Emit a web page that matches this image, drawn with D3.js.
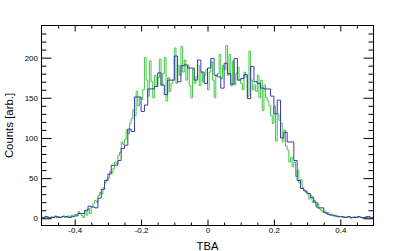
<!DOCTYPE html>
<html>
<head>
<meta charset="utf-8">
<script src="https://cdn.jsdelivr.net/npm/d3@7"></script>
<style>
  body { margin: 0; background: #fff; }
  text { font-family: "Liberation Sans", Arial, sans-serif; }
</style>
</head>
<body>
<div id="chart"></div>
<script>
// histogram ranges and bin contents
var xRange = [-0.5, 0.5];

// coarse histogram, 100 bins of 0.01
var blueCounts = [
  1, 2, 1, 1, 2, 1, 2, 2, 1, 2,
  3, 6, 6, 10, 15, 14, 13, 25, 36, 47,
  55, 66, 66, 72, 87, 91, 111, 108, 151, 151,
  133, 141, 161, 161, 164, 181, 166, 154, 172, 172,
  202, 170, 190, 191, 187, 187, 172, 197, 182, 168,
  187, 199, 178, 176, 162, 193, 180, 167, 199, 172,
  174, 179, 149, 189, 170, 168, 162, 161, 161, 152,
  130, 147, 100, 107, 95, 95, 72, 47, 37, 34,
  31, 26, 20, 13, 13, 7, 5, 4, 3, 2,
  2, 1, 2, 1, 1, 2, 1, 1, 2, 1
];

// fine histogram, 200 bins of 0.005
var greenCounts = [
  1, 0, 2, 1, 1, 0, 2, 1, 3, 1, 2, 1, 2, 3, 1, 2, 3, 2, 4, 3,
  5, 4, 8, 6, 3, 1, 9, 4, 12, 6,
  14, 18, 22, 20, 28, 32, 30, 38, 44, 48,
  50, 58, 56, 62, 70, 68, 78, 82, 95, 92,
  98, 110, 105, 118, 124, 135, 128, 158, 140, 150,
  148, 160, 200, 172, 152, 196, 170, 150, 178, 165,
  175, 198, 165, 180, 200, 146, 175, 158, 168, 172,
  212, 168, 190, 178, 214, 182, 197, 172, 190, 165,
  150, 186, 168, 176, 190, 165, 182, 170, 178, 185,
  160, 182, 195, 172, 150, 178, 180, 204, 174, 190,
  185, 215, 178, 204, 165, 196, 166, 180, 188, 172,
  168, 160, 182, 176, 152, 208, 172, 160, 166, 158,
  178, 150, 172, 134, 166, 150, 146, 140, 128, 118,
  140, 96, 130, 122, 118, 95, 110, 90, 85, 70,
  76, 64, 70, 52, 60, 44, 48, 38, 35, 32,
  30, 24, 28, 20, 22, 15, 18, 12, 10, 8,
  9, 6, 7, 4, 5, 3, 4, 2, 3, 2,
  2, 1, 2, 1, 1, 2, 0, 1, 2, 1, 1, 2, 1, 0, 1, 2, 1, 1, 0, 1
];

var xMajor = [-0.4, -0.2, 0, 0.2, 0.4];
var yMajor = [0, 50, 100, 150, 200];

var xTitle = "TBA";
var yTitle = "Counts [arb.]";

var W = 415, H = 251;
var margin = {top: 25.5, right: 41.5, bottom: 25.5, left: 41.5};

var svg = d3.select("#chart").append("svg")
  .attr("width", W)
  .attr("height", H);

var x = d3.scaleLinear().domain(xRange).range([margin.left, W - margin.right]);
var y = d3.scaleLinear().domain([-9, 240]).range([H - margin.bottom, margin.top]);

var fmt = d3.formatLocale({decimal: ".", thousands: ",", grouping: [3], currency: ["", ""], minus: "-"});
var xFmt = function(d) { return d === 0 ? "0" : fmt.format(".1f")(d); };

// minor tick values
var xMinor = d3.range(-0.45, 0.5, 0.05).map(function(d) { return +d.toFixed(2); })
  .filter(function(d) { return xMajor.indexOf(d) < 0; });
var yMinor = d3.range(-0, 240, 10).filter(function(d) { return d % 50 !== 0; });

// build histogram step points from bin contents
function steps(counts) {
  var n = counts.length, w = (xRange[1] - xRange[0]) / n;
  var pts = counts.map(function(c, i) { return [xRange[0] + i * w, c]; });
  pts.push([xRange[1], counts[n - 1]]);
  return pts;
}

var line = d3.line()
  .x(function(d) { return x(d[0]); })
  .y(function(d) { return y(d[1]); })
  .curve(d3.curveStepAfter);

svg.append("clipPath").attr("id", "clip")
  .append("rect")
  .attr("x", x.range()[0]).attr("y", margin.top)
  .attr("width", x.range()[1] - x.range()[0])
  .attr("height", y.range()[0] - y.range()[1]);

var plot = svg.append("g").attr("clip-path", "url(#clip)");

plot.append("path")
  .attr("d", line(steps(greenCounts)))
  .attr("fill", "none")
  .attr("stroke", "#44c844")
  .attr("stroke-width", 1);

plot.append("path")
  .attr("d", line(steps(blueCounts)))
  .attr("fill", "none")
  .attr("stroke", "#3838b4")
  .attr("stroke-width", 1);

// axes: major + minor, ticks pointing inward
function addAxis(axis, transform, labels) {
  var g = svg.append("g").attr("transform", transform).call(axis);
  g.select(".domain").remove();
  g.selectAll("line").attr("stroke", "#000");
  g.selectAll("text")
    .attr("font-size", 8)
    .attr("fill", "#000")
    .attr("font-family", "Liberation Sans, Arial, sans-serif");
  if (!labels) g.selectAll("text").remove();
  return g;
}

var bottom = H - margin.bottom, right = W - margin.right;

addAxis(d3.axisBottom(x).tickValues(xMajor).tickFormat(xFmt).tickSize(-6).tickSizeOuter(0).tickPadding(2.3),
  "translate(0," + bottom + ")", true);
addAxis(d3.axisBottom(x).tickValues(xMinor).tickSize(-3).tickSizeOuter(0),
  "translate(0," + bottom + ")", false);
addAxis(d3.axisTop(x).tickValues(xMajor).tickSize(-6).tickSizeOuter(0),
  "translate(0," + margin.top + ")", false);
addAxis(d3.axisTop(x).tickValues(xMinor).tickSize(-3).tickSizeOuter(0),
  "translate(0," + margin.top + ")", false);

addAxis(d3.axisLeft(y).tickValues(yMajor).tickSize(-10).tickSizeOuter(0).tickPadding(3.5),
  "translate(" + margin.left + ",0)", true);
addAxis(d3.axisLeft(y).tickValues(yMinor).tickSize(-5).tickSizeOuter(0),
  "translate(" + margin.left + ",0)", false);
addAxis(d3.axisRight(y).tickValues(yMajor).tickSize(-10).tickSizeOuter(0),
  "translate(" + right + ",0)", false);
addAxis(d3.axisRight(y).tickValues(yMinor).tickSize(-5).tickSizeOuter(0),
  "translate(" + right + ",0)", false);

// frame
svg.append("rect")
  .attr("x", margin.left).attr("y", margin.top)
  .attr("width", right - margin.left)
  .attr("height", bottom - margin.top)
  .attr("fill", "none")
  .attr("stroke", "#000")
  .attr("stroke-width", 1);

// titles
svg.append("text")
  .attr("x", (margin.left + right) / 2)
  .attr("y", 250)
  .attr("text-anchor", "middle")
  .attr("font-size", 11.2)
  .text(xTitle);

svg.append("text")
  .attr("transform", "translate(12.5," + ((margin.top + bottom) / 2) + ") rotate(-90)")
  .attr("text-anchor", "middle")
  .attr("font-size", 11.4)
  .text(yTitle);
</script>
</body>
</html>
